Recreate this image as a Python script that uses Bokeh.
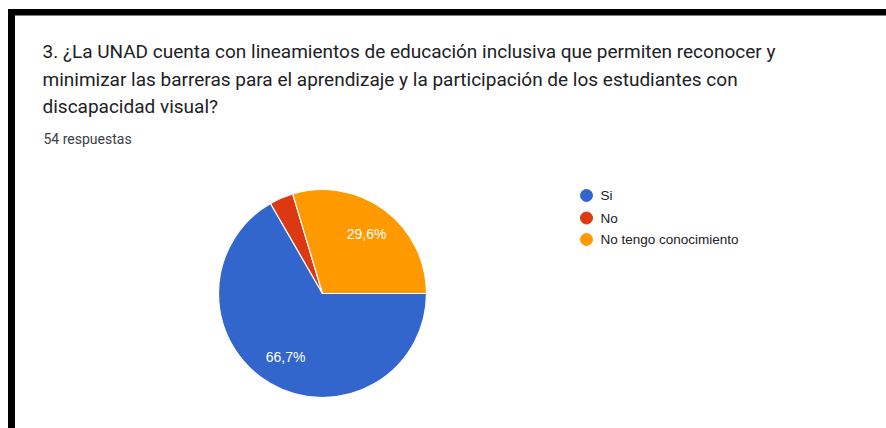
import math
from bokeh.plotting import figure
from bokeh.models import Range1d, ColumnDataSource
from bokeh.core.properties import value
from bokeh.embed import file_html
from bokeh.resources import INLINE

# ---- data ----
categories = ["Si", "No", "No tengo conocimiento"]
counts = [36, 2, 16]
colors = ["#3366cc", "#dc3912", "#ff9900"]
title_lines = [
    "3. ¿La UNAD cuenta con lineamientos de educación inclusiva que permiten reconocer y",
    "minimizar las barreras para el aprendizaje y la participación de los estudiantes con",
    "discapacidad visual?",
]
subtitle = "54 respuestas"

W, H = 886, 428
p = figure(width=W, height=H, output_backend="svg", toolbar_location=None,
           x_range=Range1d(0, W), y_range=Range1d(0, H), min_border=0)
p.axis.visible = False
p.grid.visible = False
p.outline_line_color = None
p.background_fill_color = "white"
p.border_fill_color = "white"

# frame (black border on top and left)
p.quad(left=[8], right=[W], bottom=[413.5], top=[419], color="black")
p.quad(left=[8], right=[14], bottom=[0], top=[419], color="black")

# pie
cx, cy, r = 322, 135, 104
total = sum(counts)
starts, ends, mids = [], [], []
a = 0.0
for c in counts:
    sweep = 2 * math.pi * c / total
    starts.append(a)
    ends.append(a - sweep)
    mids.append(a - sweep / 2)
    a -= sweep
src = ColumnDataSource(dict(start=starts, end=ends, color=colors, cat=categories))
p.wedge(x=cx, y=cy, radius=r, start_angle="start", end_angle="end", direction="clock",
        fill_color="color", line_color="white", line_width=1.2, source=src)

# slice labels
lx, ly, lt = [], [], []
for c, m in zip(counts, mids):
    pct = 100.0 * c / total
    if pct < 5:
        continue
    lx.append(cx + 0.71 * r * math.cos(m))
    ly.append(cy + 0.71 * r * math.sin(m))
    lt.append(f"{pct:.1f}%".replace(".", ","))
p.text(x=lx, y=ly, text=lt, text_color="white", text_font=value("Liberation Sans"),
       text_font_size="14px", text_align="center", text_baseline="middle")

# title
ty = [377, 349.5, 322]
p.text(x=[42] * len(title_lines), y=ty, text=title_lines, text_color="#202124",
       text_font=value("Roboto"), text_font_size="19px", text_baseline="middle")
p.text(x=[43], y=[289.5], text=[subtitle], text_color="#3c4043",
       text_font=value("Roboto"), text_font_size="14px", text_baseline="middle")

# legend
leg_y = [233, 210.5, 189]
p.scatter(x=[586] * 3, y=leg_y, size=12, color=colors, marker="circle")
p.text(x=[600] * 3, y=leg_y, text=categories, text_color="#222222",
       text_font=value("Liberation Sans"), text_font_size="13.5px", text_baseline="middle")

open("out.html", "w").write(file_html(p, INLINE))
